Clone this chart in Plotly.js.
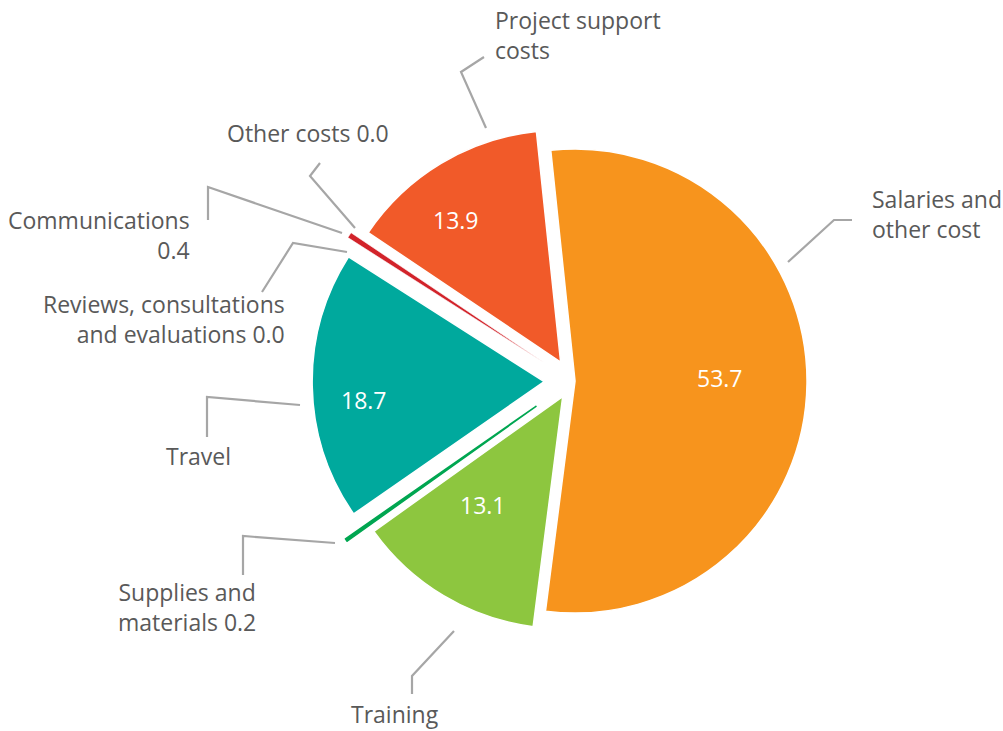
<!DOCTYPE html>
<html><head><meta charset="utf-8">
<script src="https://cdn.plot.ly/plotly-3.0.1.min.js"></script>
<style>html,body{margin:0;padding:0;background:#fff}#chart{width:1003px;height:731px}</style>
</head><body><div id="chart"></div>
<script>
// ---- data ----
const categories = ['Salaries and other cost','Training','Supplies and materials','Travel',
  'Reviews, consultations and evaluations','Communications','Other costs','Project support costs'];
const values = [53.7, 13.1, 0.2, 18.7, 0.0, 0.4, 0.0, 13.9];
const labelLines = [['Salaries and','other cost'],['Training'],['Supplies and','materials 0.2'],['Travel'],
  ['Reviews, consultations','and evaluations 0.0'],['Communications','0.4'],['Other costs 0.0'],['Project support','costs']];
const showValueInside = [true, true, false, true, false, false, false, true];

// ---- styles / layout ----
const colors = ['#F7941D','#8DC63F','#00A651','#00A99D','#7F7F7F','#D2232A','#A0A0A0','#F15A29'];
const lineColors = ['#ffffff','#ffffff','#00A651','#ffffff','#ffffff','#ffffff','#ffffff','#ffffff'];
const lineWidths = [1.5, 1.5, 1.6, 1.5, 0, 0.6, 0, 1.5];
const pulls = [0.013, 0.078, 0.19, 0.12, 0, 0.147, 0, 0.095];
const W = 1003, H = 731, CX = 572, CY = 381, R = 232, ROT = -6;
const valAngFrac = [0.49, 0.62, 0, 0.43, 0, 0, 0, 0.39];
const valRadFrac = [0.625, 0.58, 0, 0.78, 0, 0, 0, 0.76];
// label placement (pixels): anchor x, centre y of the first line
const labelPlace = [
  {x:870, y:202, a:'left'}, {x:395, y:714, a:'center'}, {x:187, y:595, a:'center'},
  {x:198, y:456, a:'center'}, {x:287, y:307, a:'right'}, {x:192, y:223, a:'right'},
  {x:308, y:133, a:'center'}, {x:493, y:23, a:'left'}
];
const leaders = [
  [[788,262],[834,220],[852,220]],
  [[454,631],[412,676],[412,694]],
  [[335,543],[243,536],[243,575]],
  [[300,405],[207,397],[207,437]],
  [[347,252],[293,243],[262,292]],
  [[342,233],[208,187],[208,220]],
  [[355,228],[310,176],[320,163]],
  [[486,128],[461,72],[484,57]]
];
const REF_STEP = 24.5, FS = 23, PLOTLY_STEP = 1.3 * FS;
const FONT = 'Open Sans, sans-serif';
const TXT = '#595959';

const px = x => x / W, py = y => 1 - y / H;
const maxPull = Math.max(...pulls);
const box = 2 * R * (1 + maxPull);

const trace = {
  type: 'pie', values: values, labels: categories, sort: false, direction: 'clockwise',
  rotation: ROT, pull: pulls, textinfo: 'none', hoverinfo: 'label+value',
  marker: {colors: colors, line: {color: lineColors, width: lineWidths}},
  domain: {x: [(CX - box/2)/W, (CX + box/2)/W], y: [1 - (CY + box/2)/H, 1 - (CY - box/2)/H]},
  showlegend: false
};

const total = values.reduce((a,b)=>a+b, 0);
const annotations = [];
let cum = 0;
values.forEach((v, i) => {
  const a0 = ROT + 360 * cum / total, span = 360 * v / total;
  cum += v;
  if (!showValueInside[i]) return;
  const mid = (a0 + span/2) * Math.PI/180;
  const th = (a0 + valAngFrac[i]*span) * Math.PI/180;
  const cx = CX + pulls[i]*R*Math.sin(mid), cy = CY - pulls[i]*R*Math.cos(mid);
  const x = cx + valRadFrac[i]*R*Math.sin(th), y = cy - valRadFrac[i]*R*Math.cos(th);
  annotations.push({xref:'paper', yref:'paper', x:px(x), y:py(y), text: v.toFixed(1), showarrow:false,
    xanchor:'center', yanchor:'middle', font:{family:FONT, size:FS, color:'#ffffff'}});
});
labelLines.forEach((lines, i) => {
  const p = labelPlace[i];
  const n = lines.length;
  const centre = p.y + (n - 1) * REF_STEP / 2;
  annotations.push({xref:'paper', yref:'paper', x:px(p.x), y:py(centre), text: lines.join('<br>'), showarrow:false,
    xanchor:p.a, yanchor:'middle', align:p.a, font:{family:FONT, size:FS, color:TXT}});
});
const shapes = leaders.map(pts => ({
  type:'path', xref:'paper', yref:'paper',
  path: pts.map((q, k) => (k ? 'L ' : 'M ') + px(q[0]) + ' ' + py(q[1])).join(' '),
  line:{color:'#A6A6A6', width:2.2}
}));

Plotly.newPlot('chart', [trace], {
  width: W, height: H, margin:{l:0, r:0, t:0, b:0},
  paper_bgcolor:'#ffffff', plot_bgcolor:'#ffffff',
  annotations: annotations, shapes: shapes, font:{family:FONT}
}, {displayModeBar:false, staticPlot:true});
</script></body></html>
